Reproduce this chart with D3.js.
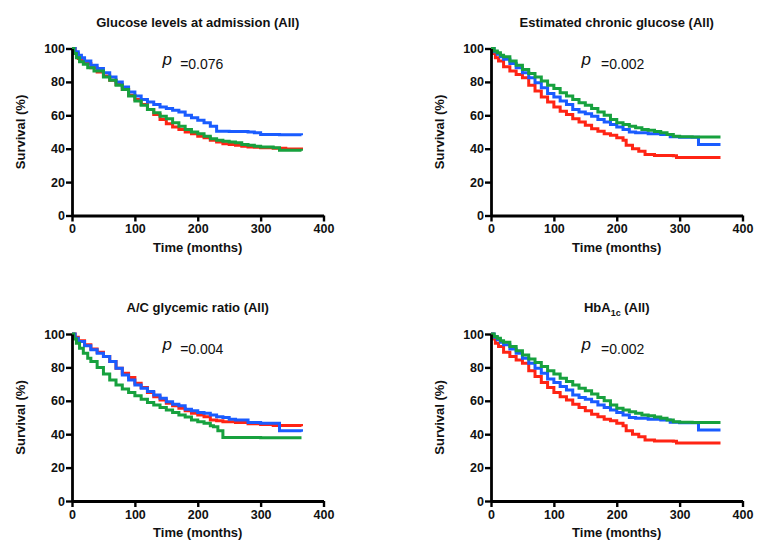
<!DOCTYPE html>
<html>
<head>
<meta charset="utf-8">
<script src="https://cdn.jsdelivr.net/npm/d3@7"></script>
<style>
  body { margin: 0; background: #fff; }
  text { font-family: "Liberation Sans", Arial, sans-serif; fill: #111; }
</style>
</head>
<body>
<script>
// chart values: [time (months), survival (%)]
const titles = ["Glucose levels at admission (All)", "Estimated chronic glucose (All)",
                "A/C glycemic ratio (All)", "HbA1c (All)"];
const pValues = ["=0.076", "=0.002", "=0.004", "=0.002"];
const xTicks = [0, 100, 200, 300, 400];
const yTicks = [0, 20, 40, 60, 80, 100];

const admissionRed = [[0,100],[5,97],[10,94],[15,92.5],[20,91],[30,88.5],[40,86],[50,83.5],[60,81],[70,78.5],
  [80,75.5],[90,72],[100,69.5],[110,66.5],[120,63.5],[130,60.5],[140,57.5],[150,55],[160,53],[170,51.5],
  [180,50],[190,49],[200,47.5],[210,46.5],[220,45],[230,44],[240,43],[250,42.5],[260,42],[270,41.5],
  [280,41],[290,40.8],[300,40.5],[320,40.2],[340,39.8],[365,39.5]];
const admissionBlue = [[0,100],[5,98],[10,96],[15,94.5],[20,92.5],[30,90],[40,88],[50,85.5],[60,83],[70,80],
  [80,77],[90,74],[100,71.5],[110,69.5],[120,68],[130,66.5],[140,65],[150,64],[160,63],[170,62],
  [180,60],[190,58.5],[200,57],[210,55.5],[220,53.5],[230,50.5],[250,50.3],[280,50],[290,49.5],
  [300,48.5],[330,48.3],[365,48]];
const admissionGreen = [[0,100],[3,97],[7,94.5],[12,92],[18,90.5],[25,88.5],[35,86.5],[50,83],[60,81],[70,78],
  [80,75.5],[90,71.5],[100,68.5],[110,66],[120,63.5],[130,61.5],[140,59.5],[150,58],[160,55.5],[170,53.5],
  [180,51.5],[190,50],[200,49],[210,47.5],[220,46],[230,45],[240,44.5],[250,44],[260,43.5],[270,42.5],
  [280,42],[290,41.5],[300,41],[320,40.5],[330,39],[365,38.8]];

const chronicRed = [[0,100],[3,97],[7,94.5],[12,92.5],[20,89],[30,86.5],[40,84.5],[50,82.5],[60,78],[70,74.5],
  [80,71],[90,68],[100,65],[110,62.5],[120,60.5],[130,58],[140,56],[150,54],[160,52],[170,50.5],
  [180,49],[190,48],[200,46.5],[210,45],[215,42],[225,40],[235,38.5],[245,36.5],[260,36],[290,35.8],
  [295,34.8],[365,34.8]];
const chronicBlue = [[0,100],[5,98],[10,96.5],[15,95],[20,93.5],[30,91],[40,88.5],[50,85.5],[60,82.5],[70,79.5],
  [80,76.5],[90,73],[100,71],[110,68.5],[120,66.5],[130,63.5],[140,62],[150,61],[160,59.5],[170,57.5],
  [180,56],[190,54.5],[200,53],[210,51.5],[220,50],[230,49.5],[250,49],[270,48.5],[285,47.2],[300,46.8],
  [330,42.5],[365,42.5]];
const chronicGreen = [[0,100],[5,98.5],[10,97.5],[15,96],[20,95],[30,92.5],[40,90],[50,87.5],[60,85],[70,83],
  [80,80.5],[90,78],[100,76],[110,73.5],[120,71.5],[130,69.5],[140,67.5],[150,66],[160,64],[170,62],
  [180,60],[190,57.5],[200,55.5],[210,54.5],[220,53.5],[230,52.5],[240,51.5],[250,51],[260,50.3],
  [270,49.5],[280,48.5],[290,47.5],[300,47.2],[320,47],[365,47]];

const ratioRed = [[0,100],[5,98],[10,96],[20,93.5],[30,91],[40,89],[50,86.5],[60,83.5],[70,79.5],[80,76.5],
  [90,74],[100,70.5],[110,68],[120,65],[130,62.5],[140,60.5],[150,58.5],[160,57],[170,55.5],[180,54],
  [190,52.5],[200,51.5],[210,50.5],[220,48.5],[230,48],[240,47.5],[260,47],[280,46.3],[300,45.8],
  [320,45.2],[365,44.8]];
const ratioBlue = [[0,100],[5,97.5],[10,95.5],[20,93],[30,90.5],[40,88.5],[50,86.5],[60,83.5],[70,79.5],[80,75.5],
  [90,72.5],[100,69.5],[110,67.5],[120,65.5],[130,63.5],[140,61.5],[150,59.5],[160,58],[170,57],[180,55],
  [190,54],[200,53],[210,52.5],[220,51.5],[230,50.5],[240,50],[250,49],[260,48.5],[280,47],[300,46.5],
  [330,42],[365,41.5]];
const ratioGreen = [[0,100],[3,97],[7,94.5],[12,91.5],[18,88.5],[25,85.5],[30,83.5],[40,80],[50,76],[60,72.5],
  [70,69.5],[80,67],[90,65],[100,63],[110,61],[120,59],[130,57.5],[140,56],[150,54.5],[160,53],
  [170,51.5],[180,50.3],[190,48.5],[200,47.5],[210,46.5],[220,45],[225,44.5],[232,42],[240,38],
  [300,37.8],[365,37.8]];

// HbA1c panel shows the same curves as the chronic glucose panel
const hba1cRed = chronicRed;
const hba1cBlue = chronicBlue;
const hba1cGreen = chronicGreen;

const colors = ["#ff2414", "#1a5cff", "#17a13e"];

// layout of the four panels
const panels = [
  { left: 72,  top: 48.5, series: [admissionRed, admissionBlue, admissionGreen] },
  { left: 491, top: 48.5, series: [chronicRed, chronicBlue, chronicGreen] },
  { left: 72,  top: 334,  series: [ratioRed, ratioBlue, ratioGreen] },
  { left: 491, top: 334,  series: [hba1cRed, hba1cBlue, hba1cGreen] }
];
const plotW = 251.5, plotH = 167;

const svg = d3.select("body").append("svg")
  .attr("width", 760)
  .attr("height", 550);

panels.forEach(function(p, i) {
  const x = d3.scaleLinear().domain([0, 400]).range([p.left, p.left + plotW]);
  const y = d3.scaleLinear().domain([0, 100]).range([p.top + plotH, p.top]);
  const g = svg.append("g");

  // curves
  const line = d3.line()
    .x(d => x(d[0]))
    .y(d => y(d[1]))
    .curve(d3.curveStepAfter);
  p.series.forEach(function(s, j) {
    g.append("path")
      .datum(s)
      .attr("d", line)
      .attr("fill", "none")
      .attr("stroke", colors[j])
      .attr("stroke-width", 3);
  });

  // axes
  const yAxis = g.append("g")
    .attr("transform", "translate(" + p.left + ",0)")
    .call(d3.axisLeft(y).tickValues(yTicks).tickSize(6).tickSizeOuter(0).tickPadding(1));
  const xAxis = g.append("g")
    .attr("transform", "translate(0," + (p.top + plotH) + ")")
    .call(d3.axisBottom(x).tickValues(xTicks).tickSize(6).tickSizeOuter(0).tickPadding(3));
  [xAxis, yAxis].forEach(function(a) {
    a.select(".domain").attr("stroke", "#000").attr("stroke-width", 2.8);
    a.selectAll(".tick line").attr("stroke", "#000").attr("stroke-width", 2.4);
    a.selectAll(".tick text")
      .style("font-size", "12.5px")
      .style("font-weight", "bold")
      .style("font-family", '"Liberation Sans", Arial, sans-serif')
      .attr("fill", "#111");
  });

  // title
  const title = g.append("text")
    .attr("x", p.left + plotW / 2)
    .attr("y", p.top - 22)
    .attr("text-anchor", "middle")
    .style("font-size", "13px")
    .style("font-weight", "bold");
  if (titles[i] === "HbA1c (All)") {
    title.append("tspan").text("HbA");
    title.append("tspan").attr("dy", 4).style("font-size", "9px").text("1c");
    title.append("tspan").attr("dy", -4).text(" (All)");
  } else {
    title.text(titles[i]);
  }

  // axis titles
  g.append("text")
    .attr("x", p.left + plotW / 2)
    .attr("y", p.top + plotH + 36)
    .attr("text-anchor", "middle")
    .style("font-size", "13px")
    .style("font-weight", "bold")
    .text("Time (months)");
  g.append("text")
    .attr("transform", "translate(" + (p.left - 47) + "," + (p.top + plotH / 2) + ") rotate(-90)")
    .attr("text-anchor", "middle")
    .style("font-size", "13px")
    .style("font-weight", "bold")
    .text("Survival (%)");

  // p value
  g.append("text")
    .attr("x", x(144))
    .attr("y", y(88) - 4)
    .style("font-size", "17px")
    .style("font-style", "italic")
    .text("p");
  g.append("text")
    .attr("x", x(i % 2 === 0 ? 172 : 175))
    .attr("y", y(88))
    .style("font-size", "14px")
    .text(pValues[i]);
});
</script>
</body>
</html>
